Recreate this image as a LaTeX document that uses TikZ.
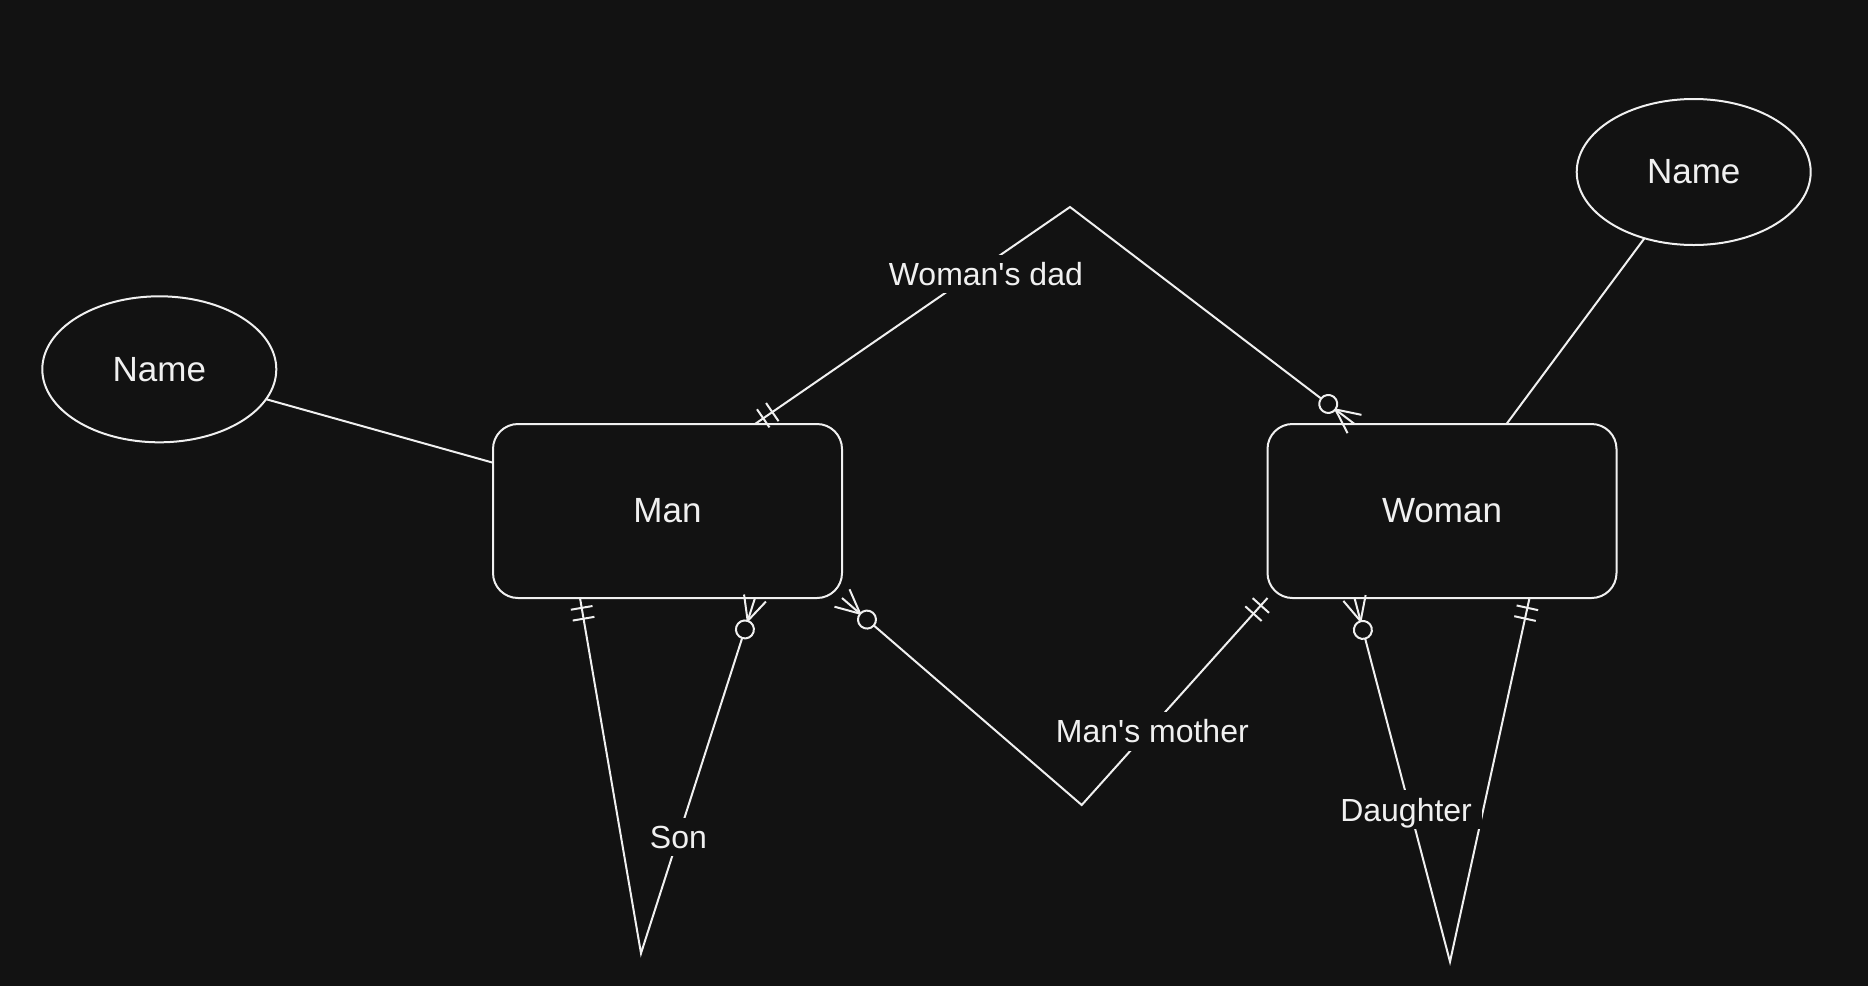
\documentclass[tikz,border=0pt]{standalone}
\usepackage{fontspec}
\setmainfont{Liberation Sans}
\usetikzlibrary{calc}
\usetikzlibrary{shapes}
\usetikzlibrary{decorations.markings}
\definecolor{bg}{HTML}{121212}
\definecolor{fg}{HTML}{F0F0F0}
\tikzstyle{entity}=[draw,fill=bg,rounded corners=25pt,minimum width=349pt,minimum height=174pt,inner sep=0pt,outer sep=0pt,font=\fontsize{35}{42}\selectfont]
\tikzstyle{attrib}=[draw,fill=bg,ellipse,minimum width=234pt,minimum height=146pt,inner sep=0pt,outer sep=0pt,font=\fontsize{35}{42}\selectfont]
\tikzstyle{role}=[fill=bg,inner xsep=10pt,inner ysep=0pt,text height=30.7pt,text depth=7.7pt,font=\fontsize{32}{38}\selectfont]
\newcommand{\markone}{\draw (10pt,-11pt) -- (10pt,11pt) (21pt,-11pt) -- (21pt,11pt);}
\newcommand{\markmany}{\draw (0pt,-11.5pt) -- (24pt,0pt) -- (0pt,11.5pt); \filldraw[fill=bg] (33pt,0pt) circle (9pt);}
\tikzstyle{one start}=[postaction={decorate,decoration={markings,mark=at position 0 with {\markone}}}]
\tikzstyle{one end}=[postaction={decorate,decoration={markings,mark=at position 1 with {\pgftransformxscale{-1}\markone}}}]
\tikzstyle{many start}=[postaction={decorate,decoration={markings,mark=at position 0 with {\markmany}}}]
\tikzstyle{many end}=[postaction={decorate,decoration={markings,mark=at position 1 with {\pgftransformxscale{-1}\markmany}}}]
\begin{document}
\begin{tikzpicture}[x=1pt,y=-1pt,line width=2pt,color=fg]
	\fill[bg] (0,0) rectangle (1868,986);
	\node[entity] (man) at (667.5,511) {Man};
	\node[entity] (woman) [right of=man,node distance=774.5pt] {Woman};
	\node[attrib] (mname) at (159.3,369.3) {Name};
	\node[attrib] (wname) at (1693.7,172) {Name};
	\coordinate (dadpeak) at (1070,207);
	\coordinate (motherdip) at (1081.7,805);
	\coordinate (sontip) at (641,953.3);
	\coordinate (daughtertip) at (1450,961.7);
	\draw (mname) -- (man);
	\draw (wname) -- (woman);
	\draw[one start,many end] ([xshift=87.5pt]man.north)
		-- node[role,pos=.69,xshift=13.5pt] {Woman\textquotesingle s dad} (dadpeak)
		-- ([xshift=-87.5pt]woman.north);
	\draw[many start,one end] (man.south east) -- (motherdip)
		-- node[role,pos=.356,xshift=4.5pt] {Man\textquotesingle s mother} (woman.south west);
	\draw[one start,many end] ([xshift=-87.5pt]man.south) -- (sontip)
		-- node[role,pos=.328] {Son} ([xshift=87.5pt]man.south);
	\draw[many start,one end] ([xshift=-87.5pt]woman.south)
		-- node[role,pos=.582,xshift=-4pt] {Daughter} (daughtertip)
		-- ([xshift=87.5pt]woman.south);
\end{tikzpicture}
\end{document}
